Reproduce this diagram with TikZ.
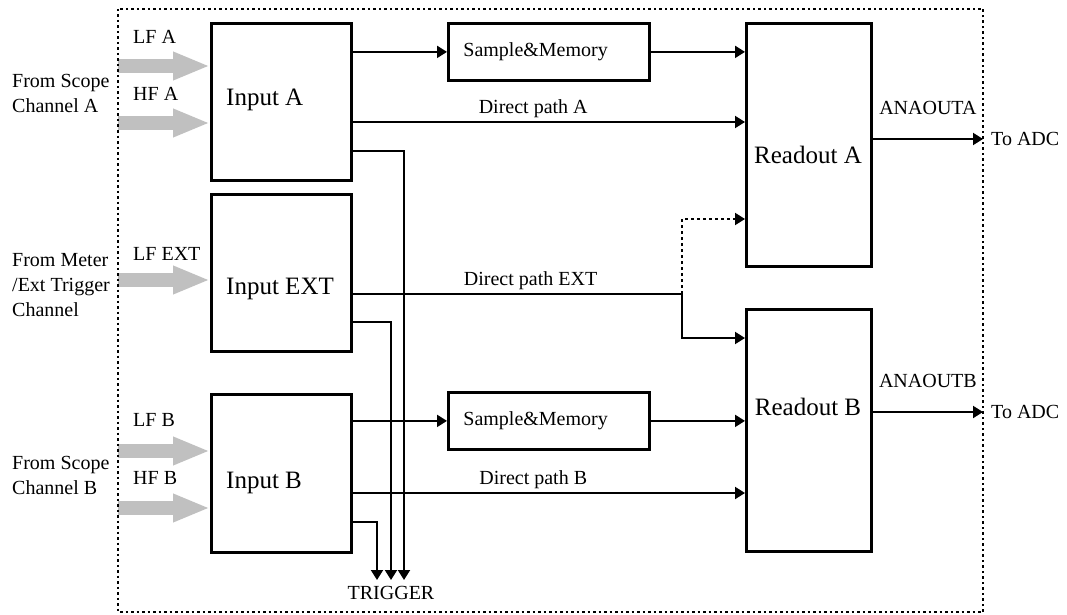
\documentclass[tikz,border=0pt]{standalone}
\usepackage{fontspec}
\setmainfont{Liberation Serif}
\usetikzlibrary{arrows.meta}

\definecolor{feedgray}{RGB}{192,192,192}

\tikzset{
	blk/.style={draw, line width=2.8pt, inner sep=0pt},
	sig/.style={line width=2pt, -{Triangle[length=10pt,width=12pt]}},
	feed/.style={line width=14pt, draw=feedgray, -{Triangle[length=37pt,width=26pt]}},
	frame/.style={line width=2.2pt, dash pattern=on 2.5pt off 3pt},
	txt/.style={font=\fontsize{20}{25}\selectfont},
	big/.style={font=\fontsize{25}{30}\selectfont, inner sep=0pt},
}

\begin{document}
\begin{tikzpicture}[x=1pt, y=-1pt]
	\useasboundingbox (0,0) rectangle (1067,615);

	% blocks
	\node[blk, anchor=north west, minimum width=140pt, minimum height=157pt] (inA) at (210,22) {};
	\node[blk, anchor=north west, minimum width=140pt, minimum height=157pt] (inE) at (210,193) {};
	\node[blk, anchor=north west, minimum width=140pt, minimum height=158pt] (inB) at (210,393) {};
	\node[big, anchor=base west] (inAtxt) at (226,106) {Input A};
	\node[big, anchor=base west] (inEtxt) at (226,294) {Input EXT};
	\node[big, anchor=base west] (inBtxt) at (226,488) {Input B};

	\node[blk, txt, anchor=north west, minimum width=201pt, minimum height=57pt, text width=171pt, inner xsep=15pt, align=left] (smA) at (447,22) {Sample\&Memory};
	\node[blk, txt, anchor=north west, minimum width=201pt, minimum height=57pt, text width=171pt, inner xsep=15pt, align=left] (smB) at (447,391) {Sample\&Memory};

	\node[blk, anchor=north west, minimum width=125pt, minimum height=243pt] (rdA) at (745,22) {};
	\node[blk, anchor=north west, minimum width=125pt, minimum height=242pt] (rdB) at (745,308) {};
	\node[big, anchor=base] (rdAtxt) at (808,163) {Readout A};
	\node[big, anchor=base] (rdBtxt) at (808,415) {Readout B};

	% sources
	\foreach \y/\b in {66/inA,123/inA,280/inE,451/inB,508/inB}
	\draw[feed] (118,\y) -- (\b.west |- 0,\y);

	\foreach \y/\t [count=\i] in {44/LF A,101/HF A,260/LF EXT,426/LF B,484/HF B}
	\node[txt, anchor=base west, inner sep=0pt] (feed\i) at (133,\y) {\t};

	\node[txt, align=left, anchor=west, inner sep=0pt] (srcA) at (12,93) {From Scope\\Channel A};
	\node[txt, align=left, anchor=west, inner sep=0pt] (srcE) at (12,285) {From Meter\\/Ext Trigger\\Channel};
	\node[txt, align=left, anchor=west, inner sep=0pt] (srcB) at (12,475) {From Scope\\Channel B};

	\draw[frame] (118,9) rectangle (983,612);

	% channel A
	\draw[sig] (inA.east |- smA.west) -- (smA.west);
	\draw[sig] (smA.east) -- (rdA.west |- smA.east);
	\draw[sig] (inA.east |- 0,122) -- node[txt, above, pos=.46] (dpA) {Direct path A} (rdA.west |- 0,122);

	% channel B
	\draw[sig] (inB.east |- smB.west) -- (smB.west);
	\draw[sig] (smB.east) -- (rdB.west |- smB.east);
	\draw[sig] (inB.east |- 0,493) -- node[txt, above, pos=.46] (dpB) {Direct path B} (rdB.west |- 0,493);

	% ext
	\coordinate (split) at (682,294);
	\draw[line width=2pt] (inE.east |- split) -- node[txt, above, pos=.54] (dpE) {Direct path EXT} (split);
	\draw[sig] (split) -- (split |- 0,338) -- (rdB.west |- 0,338);
	\draw[sig, dash pattern=on 3pt off 3pt] (split) |- (rdA.west |- 0,219);

	% trigger
	\node[txt] (trig) at (391,593) {TRIGGER};
	\coordinate (trgB) at (377,580);
	\coordinate (trgE) at (391,580);
	\coordinate (trgA) at (404,580);
	\draw[sig] (inA.east |- 0,151) -| (trgA);
	\draw[sig] (inE.east |- 0,322) -| (trgE);
	\draw[sig] (inB.east |- 0,522) -| (trgB);

	% outputs
	\node[txt, anchor=west, inner xsep=8pt] (adcA) at (983,139) {To ADC};
	\node[txt, anchor=west, inner xsep=8pt] (adcB) at (983,412) {To ADC};
	\draw[sig] (rdA.east |- adcA) -- node[txt, above=20pt] (aoA) {ANAOUTA} (adcA.west);
	\draw[sig] (rdB.east |- adcB) -- node[txt, above=20pt] (aoB) {ANAOUTB} (adcB.west);
\end{tikzpicture}
\end{document}
